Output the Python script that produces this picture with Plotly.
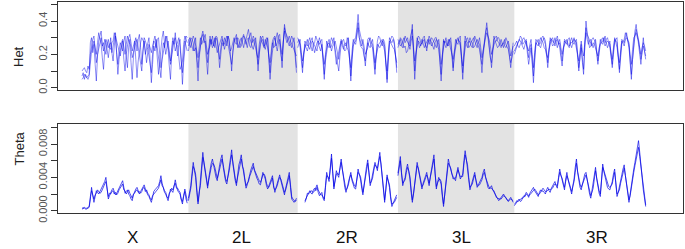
import plotly.graph_objects as go

# ---------------- data ----------------
chrom_names = ["X", "2L", "2R", "3L", "3R"]
chrom_starts = [0.0, 22.4, 45.4, 66.5, 91.0]      # Mb, cumulative
chrom_lengths = [22.4, 23.0, 21.1, 24.5, 27.9]    # Mb
label_pos = [10.7, 33.6, 55.7, 79.9, 108.4]       # Mb, where chromosome names sit
shaded_chroms = ["2L", "3L"]

het_ticks = [0.0, 0.1, 0.2, 0.3, 0.4, 0.5]
het_ticktext = ["0.0", "", "0.2", "", "0.4", ""]
theta_ticks = [0.0, 0.002, 0.004, 0.006, 0.008, 0.010]
theta_ticktext = ["0.000", "", "0.004", "", "0.008", ""]

# Het (in hundredths), three samples, per chromosome (windows of ~0.25 Mb)
het_a_X = [7,9,5,8,6,7,8,27,30,21,26,14,4,19,28,31,34,26,22,29,27,23,18,24,30,21,25,29,33,20,8,17,24,27,29,23,20,26,31,28,26,15,5,18,27,30,22,29,32,24,14,22,28,20,24,27,30,16,3,14,25,22,29,24,17,12,6,19,27,24,31,27,23,13,5,20,28,26,33,25,19,27,29,16,2,15,26,31,30]
het_b_X = [10,11,12,10,9,13,11,20,26,29,31,22,15,20,24,28,30,25,27,23,20,26,29,24,23,27,28,33,30,21,14,22,27,25,22,28,31,19,12,24,29,23,18,21,25,27,29,24,21,15,10,22,30,28,26,23,19,14,9,20,28,27,24,29,30,20,12,17,22,26,29,31,26,20,14,19,24,28,30,26,25,17,11,13,16,26,31,29,27]
het_c_X = [5,6,8,7,6,5,7,15,22,25,28,24,20,27,33,29,26,18,11,22,29,27,24,26,27,21,16,25,31,28,25,22,19,24,28,17,10,20,26,30,32,27,22,25,28,17,6,16,24,27,30,28,27,22,15,21,26,24,21,25,29,31,27,18,8,16,25,30,34,26,20,24,28,22,16,24,30,27,22,25,27,30,24,17,9,19,28,25,22]

het_a_2L = [25,30,28,24,22,27,30,15,4,18,27,31,34,29,26,17,8,20,29,26,31,27,24,30,28,21,12,20,27,25,30,28,25,31,29,20,10,22,28,30,32,24,26,29,30,27,24,28,29,32,35,30,27,25,23,28,30,22,10,21,28,30,31,25,26,30,29,17,5,15,24,28,30,25,27,31,32,23,12,26,38,33,29,27,25,28,31,29,27,18,9]
het_b_2L = [29,27,24,28,31,29,26,22,18,25,30,26,28,30,32,25,20,23,25,29,27,25,30,24,21,24,26,29,31,27,23,26,29,31,27,22,24,28,30,27,26,30,29,24,25,28,31,30,27,24,28,31,33,27,29,26,24,20,18,26,31,28,26,24,29,27,24,19,15,22,28,30,31,25,22,27,29,24,20,28,34,30,27,29,31,28,26,25,23,21,19]
het_c_2L = [22,26,30,29,27,22,24,18,12,20,26,30,32,27,28,20,15,24,31,27,24,26,28,31,30,22,17,24,29,27,26,29,31,26,22,17,14,21,27,29,30,26,24,25,28,30,32,28,26,29,30,25,24,28,31,29,27,20,14,20,26,28,29,25,23,27,30,18,9,19,27,24,25,30,33,29,26,20,16,27,36,33,31,29,28,25,24,28,30,21,12]

het_a_2R = [27,29,24,16,9,20,28,26,25,28,30,25,22,26,27,31,29,26,24,22,26,14,5,18,28,25,24,27,30,28,27,23,19,14,10,19,26,28,29,26,25,30,28,16,4,17,27,29,30,36,44,35,31,28,26,20,13,22,29,30,27,25,24,16,8,20,28,31,30,27,25,29,27,15,3,16,26,29,31,30,28,20,9]
het_b_2R = [30,28,26,21,16,21,24,27,29,25,23,26,28,27,25,23,22,27,30,27,24,19,14,20,25,27,29,24,22,25,26,28,24,20,17,24,28,25,23,26,27,24,22,17,12,22,29,27,26,31,36,30,27,25,29,24,20,22,24,28,30,27,26,20,15,19,23,26,27,28,29,25,22,15,10,20,28,27,25,24,23,19,15]
het_c_2R = [24,27,29,20,12,19,26,24,22,25,27,29,30,25,21,24,27,28,26,28,29,18,8,16,23,26,27,24,25,28,30,21,14,18,22,27,29,27,25,22,23,27,30,19,7,17,25,27,28,33,39,30,25,24,23,19,16,22,27,25,24,27,29,21,11,19,26,25,24,26,28,27,25,14,5,18,30,28,27,29,26,19,12]

het_a_3L = [26,28,29,25,24,28,31,29,27,26,25,33,38,20,5,17,28,31,30,27,26,28,29,25,24,28,31,29,27,24,23,27,29,28,26,15,4,16,28,27,30,26,25,29,27,19,10,20,29,27,26,30,31,17,5,18,28,26,24,27,30,28,27,24,25,27,29,27,26,18,9,19,28,33,39,31,26,20,12,21,29,30,31,28,27,25,24,26,28,29,26,24,23,19,15,18,22]
het_b_3L = [29,27,25,26,28,30,27,29,30,26,23,28,31,24,16,21,26,28,27,25,29,27,24,26,28,29,26,28,30,29,27,25,24,27,29,22,14,20,25,28,27,25,29,26,24,21,17,22,27,29,30,27,25,19,13,22,31,28,27,24,25,27,29,30,28,26,24,27,30,24,18,22,27,30,33,31,29,25,20,23,26,28,28,30,30,27,25,26,27,25,24,26,28,24,19,22,25]
het_c_3L = [24,27,30,29,27,24,25,21,22,26,28,32,35,22,10,20,30,27,24,26,27,30,31,26,22,27,29,27,25,27,28,30,30,25,23,16,8,18,29,26,24,25,27,29,30,21,12,19,25,28,29,28,27,17,9,18,26,29,30,27,28,25,24,28,31,29,27,25,23,18,14,22,30,33,36,29,24,18,15,24,31,28,26,24,25,27,29,26,24,28,30,28,26,18,12,20,27]

het_a_3R = [22,24,26,27,28,31,30,26,27,28,29,23,18,24,26,14,3,15,25,28,29,26,27,30,31,28,26,19,12,21,28,29,30,27,25,28,29,26,27,21,16,23,28,27,26,29,30,26,24,27,29,28,27,18,10,19,26,15,8,26,40,33,28,24,25,29,30,28,27,20,14,22,29,27,26,29,31,27,24,26,28,19,12,20,27,29,30,18,9,18,26,28,29,33,31,28,27,15,5,17,28,34,38,30,26,20,14,23,30,22,17]
het_b_3R = [25,27,28,25,24,26,27,29,30,28,26,23,22,26,29,20,12,21,27,26,25,28,30,28,27,24,23,20,18,23,26,29,28,27,30,26,24,27,29,24,20,24,26,28,29,26,25,27,27,28,30,27,24,20,16,23,28,22,19,27,33,29,26,28,29,25,27,26,24,22,19,24,27,29,30,27,25,27,28,27,26,21,17,24,29,27,24,19,15,22,28,27,25,29,30,28,26,20,14,23,30,31,33,30,28,24,20,24,27,25,22]
het_c_3R = [20,22,24,27,29,28,26,24,23,26,28,20,14,19,24,16,7,18,29,28,27,25,24,27,29,30,28,22,15,23,30,28,25,26,27,29,31,27,24,18,13,21,29,28,27,25,24,28,30,27,26,28,29,20,12,18,24,17,11,24,36,32,30,28,27,25,24,27,29,22,16,21,26,27,28,30,27,29,30,27,24,19,14,22,30,28,27,19,11,20,29,28,27,30,33,28,24,16,8,17,26,31,35,32,29,23,17,21,25,22,19]

# Theta (in units of 1e-4), two samples, per chromosome (None = no data)
theta_a_X = [2,3,3,2,2,3,4,14,28,18,10,17,24,22,20,23,26,29,31,35,40,26,14,18,22,25,27,22,19,21,24,27,30,33,36,28,21,23,25,20,18,14,12,19,24,26,28,24,20,23,26,29,31,26,22,19,17,13,10,16,23,25,27,29,30,35,42,33,25,22,20,15,12,19,26,24,22,29,37,30,24,22,20,13,8,17,26,19,12]
theta_b_X = [3,4,4,3,3,4,5,17,24,19,14,19,21,25,23,21,22,26,28,32,35,22,17,21,20,23,24,20,22,19,21,25,27,30,32,25,24,20,22,25,21,17,15,20,21,24,25,22,23,21,23,27,28,23,25,21,19,15,13,18,20,22,24,26,27,32,37,30,28,24,22,17,15,21,23,27,25,30,33,27,27,24,22,14,11,18,23,14,9]

theta_a_2L = [15,22,30,45,58,48,40,22,8,20,34,55,70,56,45,34,27,40,50,57,62,53,48,40,36,47,55,62,67,52,40,35,32,44,52,63,73,56,44,36,30,44,55,60,67,55,46,35,27,31,38,44,49,53,57,48,42,39,36,32,31,40,46,42,38,30,26,30,34,39,42,30,22,28,33,38,43,36,30,23,19,27,35,41,46,28,14,12,10,12,15]
theta_b_2L = [12,19,27,41,53,50,44,26,11,23,30,48,64,58,49,37,30,37,46,52,57,56,52,43,39,44,50,57,62,55,44,38,35,40,48,58,67,59,47,39,33,41,51,57,62,53,49,38,30,33,35,41,45,50,53,49,45,41,39,36,34,38,43,44,41,33,29,28,31,36,39,28,25,27,30,36,40,38,33,26,22,25,32,38,42,31,17,14,12,11,13]

theta_a_2R = [None,None,None,None,None,None,12,15,18,22,24,21,20,25,27,24,28,22,18,20,22,15,12,30,46,40,35,52,68,45,26,37,48,43,40,52,62,50,38,28,22,28,34,40,46,36,30,27,26,38,50,43,38,27,19,31,44,53,61,44,30,36,42,51,58,52,48,60,70,55,40,22,10,27,43,35,28,14,5,9,12,16,19]
theta_b_2R = [None,None,None,None,None,None,10,14,21,20,22,24,23,22,24,27,31,25,21,19,19,17,14,28,42,41,38,50,63,47,29,36,44,45,43,50,58,49,41,31,25,27,31,39,43,38,33,30,29,36,46,44,41,31,22,30,41,49,57,46,33,35,39,48,55,53,51,58,65,56,43,26,13,25,40,36,31,17,8,9,10,13,16]

theta_a_3L = [45,58,65,46,30,36,40,50,56,47,38,22,10,20,34,47,58,50,40,32,26,33,38,42,46,37,30,41,50,60,67,44,26,34,40,36,32,17,5,20,34,50,62,55,48,44,41,38,36,45,52,44,38,41,44,60,72,62,52,37,25,30,35,41,46,36,28,31,34,37,40,46,50,41,32,28,26,28,30,25,22,20,18,14,12,14,16,19,20,17,14,13,12,14,16,13,10]
theta_b_3L = [42,53,60,44,33,35,37,46,52,48,41,26,13,21,31,43,54,51,43,35,29,31,35,40,43,39,33,40,47,56,62,45,29,33,37,38,35,20,8,19,31,46,57,54,51,44,38,39,39,44,49,45,41,41,41,56,67,61,55,40,28,30,32,38,43,37,31,30,31,34,37,43,46,40,35,30,28,27,27,25,24,20,16,15,14,14,14,16,18,17,16,13,11,13,14,13,12]

theta_a_3R = [6,8,10,13,14,11,12,16,18,17,20,19,16,21,24,27,28,24,22,19,17,22,25,23,24,22,20,25,28,24,22,27,30,33,35,30,27,40,50,43,36,30,25,38,46,37,30,24,20,30,38,52,62,46,34,28,25,33,40,44,46,36,28,20,15,24,30,42,52,38,26,21,17,38,56,47,40,33,28,26,25,30,35,44,50,32,17,22,28,36,43,50,55,42,30,19,10,20,32,42,50,58,66,77,84,70,58,40,25,14,5]
theta_b_3R = [8,9,12,11,12,14,15,15,16,19,22,20,18,19,21,23,25,26,24,21,19,20,22,25,27,25,23,23,25,26,25,26,27,30,32,31,30,38,46,42,39,33,28,35,42,38,33,27,23,29,35,46,57,47,37,32,28,32,37,41,43,37,31,24,18,22,27,38,48,39,29,24,20,36,52,48,43,37,31,29,28,30,32,40,46,34,20,22,25,33,40,46,51,42,33,23,13,18,29,38,46,54,62,70,76,65,54,41,28,17,7]

het_series = [
    [het_a_X, het_a_2L, het_a_2R, het_a_3L, het_a_3R],
    [het_b_X, het_b_2L, het_b_2R, het_b_3L, het_b_3R],
    [het_c_X, het_c_2L, het_c_2R, het_c_3L, het_c_3R],
]
theta_series = [
    [theta_a_X, theta_a_2L, theta_a_2R, theta_a_3L, theta_a_3R],
    [theta_b_X, theta_b_2L, theta_b_2R, theta_b_3L, theta_b_3R],
]


def assemble(per_chrom, scale):
    xs, ys = [], []
    for start, length, vals in zip(chrom_starts, chrom_lengths, per_chrom):
        step = length / len(vals)
        for i, v in enumerate(vals):
            xs.append(start + i * step)
            ys.append(None if v is None else v * scale)
        xs.append(None)
        ys.append(None)
    return xs, ys


# ---------------- figure ----------------
W, H = 685, 249
fig = go.Figure()

for s in het_series:
    x, y = assemble(s, 0.01)
    fig.add_trace(go.Scatter(x=x, y=y, mode="lines", xaxis="x", yaxis="y",
                             line=dict(color="rgba(0,0,230,0.75)", width=0.6),
                             connectgaps=False, showlegend=False, hoverinfo="skip"))
for s in theta_series:
    x, y = assemble(s, 1e-4)
    fig.add_trace(go.Scatter(x=x, y=y, mode="lines", xaxis="x2", yaxis="y2",
                             line=dict(color="rgba(0,0,230,0.75)", width=0.9),
                             connectgaps=False, showlegend=False, hoverinfo="skip"))

shapes = []
for name, start, length in zip(chrom_names, chrom_starts, chrom_lengths):
    if name in shaded_chroms:
        for xr, yr in (("x", "y domain"), ("x2", "y2 domain")):
            shapes.append(dict(type="rect", xref=xr, yref=yr, x0=start, x1=start + length,
                               y0=0, y1=1, fillcolor="#e3e3e3", line_width=0, layer="below"))

x_left, x_right = -5.05, 126.5
xdom = [58 / W, 683 / W]
top_dom = [1 - 90 / H, 1 - 1.7 / H]
bot_dom = [1 - 212.7 / H, 1 - 124 / H]

axis_common = dict(showline=True, linecolor="#333333", linewidth=1, mirror=True,
                   showgrid=False, zeroline=False, automargin=False)

font_family = "Liberation Sans, Arial, sans-serif"
annotations = []
for name, pos in zip(chrom_names, label_pos):
    annotations.append(dict(x=pos, y=0.5 / H, xref="x2", yref="paper", text=name,
                            showarrow=False, yanchor="bottom",
                            font=dict(size=17, color="#111111", family=font_family)))
annotations.append(dict(x=9 / W, y=1 - 44 / H, xref="paper", yref="paper", text="Het",
                        textangle=-90, showarrow=False,
                        font=dict(size=13, color="#222222", family=font_family)))
annotations.append(dict(x=9 / W, y=1 - 168 / H, xref="paper", yref="paper", text="Theta",
                        textangle=-90, showarrow=False,
                        font=dict(size=13, color="#222222", family=font_family)))

tickfont = dict(size=11, color="#555555", family=font_family)

fig.update_layout(
    width=W, height=H,
    margin=dict(l=0, r=0, t=0, b=0, autoexpand=False),
    paper_bgcolor="white", plot_bgcolor="white",
    showlegend=False,
    shapes=shapes,
    annotations=annotations,
    xaxis=dict(domain=xdom, range=[x_left, x_right], anchor="y", showticklabels=False,
               ticks="", **axis_common),
    xaxis2=dict(domain=xdom, range=[x_left, x_right], anchor="y2", showticklabels=False,
                ticks="", **axis_common),
    yaxis=dict(domain=top_dom, range=[-0.0138, 0.516], anchor="x",
               tickvals=het_ticks, ticktext=het_ticktext, ticks="outside", ticklen=6,
               tickcolor="#333333", tickangle=-90, tickfont=tickfont, **axis_common),
    yaxis2=dict(domain=bot_dom, range=[-0.00024, 0.0104], anchor="x2",
                tickvals=theta_ticks, ticktext=theta_ticktext, ticks="outside", ticklen=6,
                tickcolor="#333333", tickangle=-90, tickfont=tickfont, **axis_common),
)

fig.write_html("out.html", config={"displayModeBar": False},
               post_script="document.body.style.margin='0';document.body.style.overflow='hidden';")
